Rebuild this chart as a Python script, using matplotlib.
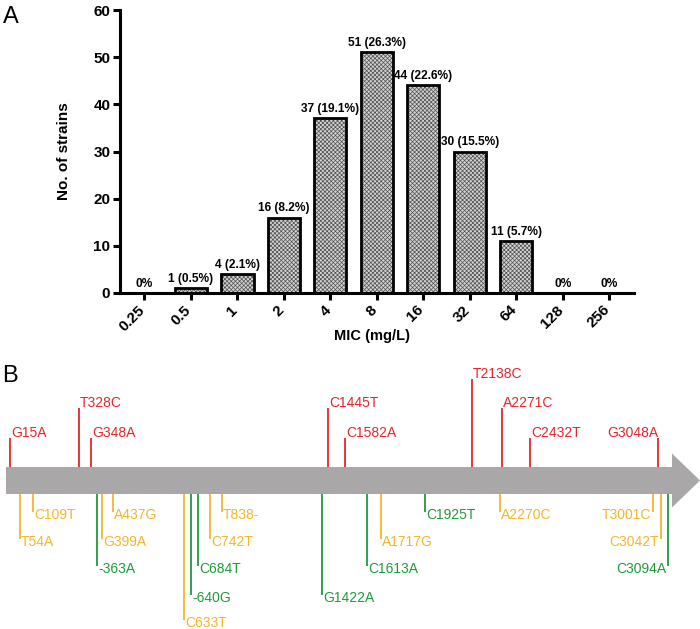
import numpy as np
import matplotlib
matplotlib.use("Agg")
import matplotlib.pyplot as plt
import matplotlib.transforms as mtransforms
from matplotlib.patches import FancyArrow

plt.rcParams['font.family'] = ['Liberation Sans', 'DejaVu Sans']
plt.rcParams['hatch.linewidth'] = 0.5

# Panel A: MIC distribution
mic_labels = ['0.25', '0.5', '1', '2', '4', '8', '16', '32', '64', '128', '256']
strain_counts = [0, 1, 4, 16, 37, 51, 44, 30, 11, 0, 0]
bar_texts = ['0%', '1 (0.5%)', '4 (2.1%)', '16 (8.2%)', '37 (19.1%)', '51 (26.3%)',
             '44 (22.6%)', '30 (15.5%)', '11 (5.7%)', '0%', '0%']

# Panel B: mutations along the gene (x = drawn position along the arrow, level = label row)
up_names = ['G15A', 'T328C', 'G348A', 'C1445T', 'C1582A', 'T2138C', 'A2271C', 'C2432T', 'G3048A']
up_x = [10, 79, 91, 328, 345, 472, 502, 530, 658]
up_level = [1, 2, 1, 2, 1, 3, 2, 1, 1]
up_right = [False, False, False, False, False, False, False, False, True]

down_names = ['T54A', 'C109T', 'G399A', 'A437G', 'C633T', 'C742T', 'T838-', 'A1717G',
              'A2270C', 'T3001C', 'C3042T',
              '-363A', 'C684T', '-640G', 'G1422A', 'C1613A', 'C1925T', 'C3094A']
down_x = [20, 33, 102, 113, 184, 210, 222, 381, 500, 653, 661,
          97, 198, 191, 322, 367, 425, 668]
down_level = [2, 1, 2, 1, 5, 2, 1, 2, 1, 1, 2,
              3, 3, 4, 4, 3, 1, 3]
down_kind = ['y'] * 11 + ['g'] * 7
down_right = [False] * 9 + [True, True] + [False] * 6 + [True]

RED = '#e4262b'
YEL = '#f3b52c'
GRN = '#1f9a3a'
ARROW = '#a9a7a7'

fig = plt.figure(figsize=(7.0, 6.29), dpi=100)

# ---- panel A
ax = fig.add_axes([120 / 700, 1 - 293 / 629, 514 / 700, 283 / 629])
x = np.arange(len(mic_labels))
ax.bar(x, strain_counts, width=0.69, color='#d4d4d4', edgecolor='#505050',
       hatch='xxxxxxxx', linewidth=0, zorder=2)
ax.bar(x, strain_counts, width=0.69, fill=False, edgecolor='black', linewidth=2.0, zorder=3)
for xi, c, t in zip(x, strain_counts, bar_texts):
    ax.annotate(t, (xi, c), xytext=(0, 2.5), textcoords='offset points', ha='center', va='bottom',
                fontsize=8.6, fontweight='bold')
ax.set_xlim(-0.527, 10.53)
ax.set_ylim(0, 60)
ax.set_yticks(range(0, 61, 10))
ax.set_xticks(x)
ax.set_xticklabels(mic_labels, rotation=45, ha='right')
for s in ['top', 'right']:
    ax.spines[s].set_visible(False)
for s in ['left', 'bottom']:
    ax.spines[s].set_linewidth(2.2)
ax.tick_params(width=2.2, length=5, labelsize=11, pad=2)
# nudge rotated tick labels a little to the right
shift = mtransforms.ScaledTranslation(0.03, 0, fig.dpi_scale_trans)
for lab in ax.get_xticklabels():
    lab.set_transform(lab.get_transform() + shift)
for lab in ax.get_xticklabels() + ax.get_yticklabels():
    lab.set_fontweight('bold')
ax.set_ylabel('No. of strains', fontsize=11, fontweight='bold', labelpad=16)
ax.set_xlabel('MIC (mg/L)', fontsize=10.5, fontweight='bold')
ax.xaxis.set_label_coords(0.490, -0.127)
fig.text(3 / 700, 1 - 17 / 629, 'A', fontsize=17, va='center', ha='left')

# ---- panel B
bx = fig.add_axes([0, 0, 1, 299 / 629])
bx.set_xlim(0, 700)
bx.set_ylim(629, 330)
bx.axis('off')
fig.text(2 / 700, 1 - 376 / 629, 'B', fontsize=17, va='center', ha='left')

bx.add_patch(FancyArrow(6, 480.5, 694, 0, width=27, head_width=54, head_length=28,
                        length_includes_head=True, color=ARROW, linewidth=0))
body_top, body_bot = 467, 494
up_rows = {1: 433, 2: 403, 3: 374}
down_rows = {1: 515, 2: 542, 3: 569, 4: 598, 5: 623}

for name, px, lv, r in zip(up_names, up_x, up_level, up_right):
    ty = up_rows[lv]
    bx.plot([px, px], [body_top, ty + 5], color=RED, lw=1.3, solid_capstyle='butt')
    bx.text(px + (0 if r else 1), ty, name, color=RED, fontsize=10,
            ha='right' if r else 'left', va='center')

for name, px, lv, k, r in zip(down_names, down_x, down_level, down_kind, down_right):
    col = YEL if k == 'y' else GRN
    ty = down_rows[lv]
    bx.plot([px, px], [body_bot, ty - 3], color=col, lw=1.3, solid_capstyle='butt')
    bx.text(px + (-2 if r else 1), ty, name, color=col, fontsize=10,
            ha='right' if r else 'left', va='center')

fig.savefig('out.png', dpi=100)
